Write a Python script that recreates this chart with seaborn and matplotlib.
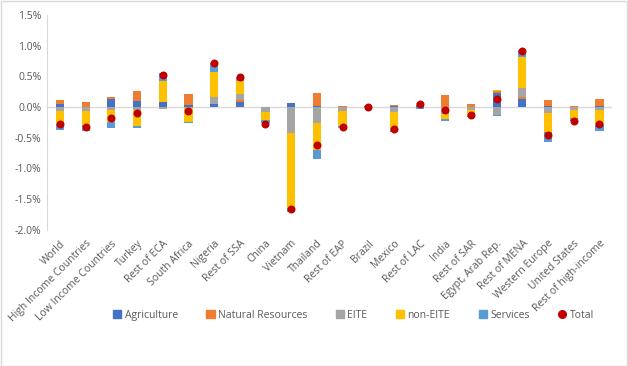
import numpy as np
import pandas as pd
import seaborn as sns
from matplotlib import pyplot as plt
from matplotlib.patches import Rectangle
from matplotlib.ticker import FuncFormatter

regions = ["World", "High Income Countries", "Low Income Countries", "Turkey", "Rest of ECA",
           "South Africa", "Nigeria", "Rest of SSA", "China", "Vietnam", "Thailand", "Rest of EAP",
           "Brazil", "Mexico", "Rest of LAC", "India", "Rest of SAR", "Egypt, Arab Rep.",
           "Rest of MENA", "Western Europe", "United States", "Rest of high-income"]

# values in percent
agriculture = [0.05, 0.0, 0.13, 0.10, 0.08, 0.03, 0.05, 0.08, 0.0, 0.065, 0.02, 0.0,
               0.01, 0.015, 0.01, 0.0, 0.0, 0.23, 0.13, 0.015, 0.005, 0.015]
natural_res = [0.065, 0.08, 0.03, 0.16, 0.0, 0.18, 0.0, 0.03, 0.0, 0.0, 0.21, 0.02,
               0.005, 0.015, 0.02, 0.20, 0.05, 0.03, 0.03, 0.10, 0.015, 0.11]
eite = [-0.065, -0.065, -0.045, -0.05, -0.03, -0.02, 0.11, 0.10, -0.08, -0.42, -0.26, -0.065,
        0.0, -0.08, 0.0, -0.11, -0.05, -0.13, 0.15, -0.10, -0.05, -0.05]
non_eite = [-0.21, -0.23, -0.20, -0.26, 0.34, -0.22, 0.41, 0.21, -0.13, -1.22, -0.44, -0.24,
            -0.01, -0.30, 0.03, -0.09, -0.09, 0.015, 0.50, -0.31, -0.13, -0.245]
services = [-0.10, -0.09, -0.10, -0.03, 0.13, -0.02, 0.14, 0.065, -0.045, -0.065, -0.15, -0.04,
            -0.01, -0.02, -0.025, -0.03, -0.02, -0.015, 0.115, -0.16, -0.04, -0.10]
total = [-0.27, -0.33, -0.185, -0.09, 0.52, -0.06, 0.71, 0.49, -0.27, -1.66, -0.61, -0.33,
         -0.005, -0.36, 0.043, -0.04, -0.125, 0.125, 0.92, -0.46, -0.22, -0.27]

series = {
    "Agriculture": (agriculture, "#4472C4"),
    "Natural Resources": (natural_res, "#ED7D31"),
    "EITE": (eite, "#A5A5A5"),
    "non-EITE": (non_eite, "#FFC000"),
    "Services": (services, "#5B9BD5"),
}

sns.set_style("white")
plt.rcParams['font.family'] = ['Open Sans', 'DejaVu Sans']
txt = "#595959"

fig = plt.figure(figsize=(6.28, 3.66), dpi=100)
ax = fig.add_axes([0.075, 0.372, 0.900, 0.587])

x = np.arange(len(regions))
pos_base = np.zeros(len(regions))
neg_base = np.zeros(len(regions))
handles = []
for name, (vals, col) in series.items():
    v = np.array(vals)
    bottom = np.where(v >= 0, pos_base, neg_base)
    ax.bar(x, v, width=0.32, bottom=bottom, color=col, linewidth=0, zorder=2)
    pos_base += np.where(v >= 0, v, 0)
    neg_base += np.where(v < 0, v, 0)
    handles.append(Rectangle((0, 0), 1, 1, color=col, label=name))

df = pd.DataFrame({"x": x, "total": total})
sns.scatterplot(data=df, x="x", y="total", ax=ax, color="#C00000", s=33,
                edgecolor="#C00000", linewidth=0, zorder=3)
handles.append(plt.Line2D([], [], marker="o", color="#C00000", linestyle="none",
                          markersize=5.5, label="Total"))

ax.axhline(0, color="#D9D9D9", linewidth=1, zorder=1)
ax.set_xlim(-0.5, len(regions) - 0.5)
ax.set_ylim(-2.0, 1.5)
ax.set_yticks(np.arange(-2.0, 1.51, 0.5))
ax.yaxis.set_major_formatter(FuncFormatter(lambda v, p: f"{v:.1f}%"))
ax.tick_params(axis="y", labelsize=7.5, colors=txt, length=0, pad=4)
ax.set_xticks(x)
ax.set_xticklabels(regions, rotation=45, ha="right", rotation_mode="anchor",
                   fontsize=7.5, color=txt)
ax.tick_params(axis="x", length=0, pad=6)
ax.set_xlabel("")
ax.set_ylabel("")
for s in ["top", "right", "bottom"]:
    ax.spines[s].set_visible(False)
ax.spines["left"].set_color("#D9D9D9")

fig.legend(handles=handles, loc="center", bbox_to_anchor=(0.563, 0.138), ncol=6,
           frameon=False, fontsize=7.5, labelcolor=txt, handlelength=0.8,
           handleheight=0.8, handletextpad=0.3, columnspacing=2.75)

fig.patches.append(Rectangle((0.001, 0.001), 0.997, 0.996, transform=fig.transFigure,
                             fill=False, edgecolor="#D9D9D9", linewidth=1))
fig.savefig("out.png", dpi=100)
